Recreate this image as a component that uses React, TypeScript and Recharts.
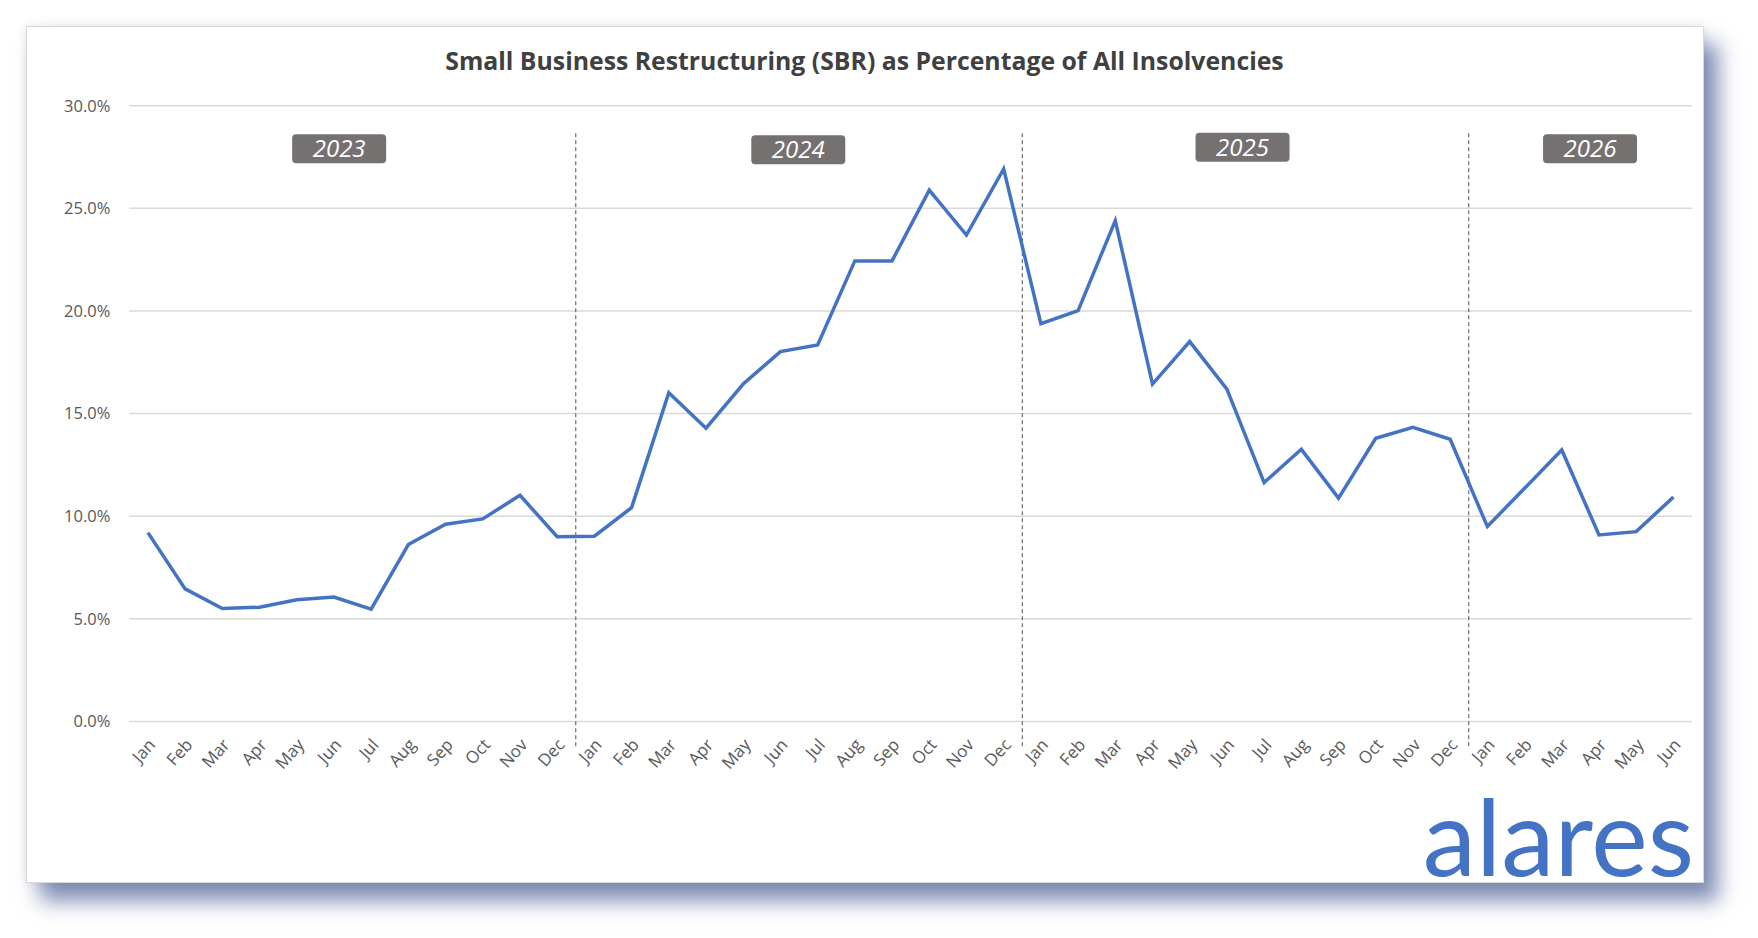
import React from "react";
import {
  LineChart,
  Line,
  XAxis,
  YAxis,
  CartesianGrid,
  ReferenceLine,
  ReferenceDot,
} from "recharts";

// SBR share of all insolvencies (%), read month by month
const MONTHS = ["Jan", "Feb", "Mar", "Apr", "May", "Jun", "Jul", "Aug", "Sep", "Oct", "Nov", "Dec"];
const YEARS = ["2023", "2024", "2025", "2026"];
const share2023 = [9.2, 6.46, 5.5, 5.57, 5.93, 6.06, 5.47, 8.62, 9.61, 9.87, 11.02, 9.0];
const share2024 = [9.03, 10.42, 16.02, 14.29, 16.44, 18.02, 18.34, 22.44, 22.44, 25.89, 23.7, 26.92];
const share2025 = [19.38, 20.02, 24.4, 16.44, 18.51, 16.19, 11.64, 13.26, 10.88, 13.8, 14.33, 13.75];
const share2026 = [9.5, 11.36, 13.23, 9.09, 9.25, 10.93];
const yTicks = [0, 5, 10, 15, 20, 25, 30];

// year badge anchors (category index, value) and year boundaries
const yearBadgeX = [5.14, 17.48, 29.42, 38.76];
const yearBadgeY = [27.9, 27.86, 27.98, 27.9];
const yearBreaks = [11.5, 23.5, 35.5];

const values = [...share2023, ...share2024, ...share2025, ...share2026];
const data = values.map((v, i) => ({ idx: i, month: MONTHS[i % 12], share: v }));
const xTicks = data.map((d) => d.idx);

const BLUE = "#4472C4";
const GREY = "#595959";

function MonthTick({ x, y, payload }: { x?: number; y?: number; payload?: { value: number } }) {
  const label = data[payload?.value ?? 0]?.month ?? "";
  return (
    <g transform={`translate(${(x ?? 0) + 4},${(y ?? 0) + 12})`}>
      <text
        x={0}
        y={0}
        dy="0.35em"
        textAnchor="end"
        transform="rotate(-48)"
        fill={GREY}
        fontSize={17}
        fontFamily="'Open Sans', sans-serif"
      >
        {label}
      </text>
    </g>
  );
}

function yearBadge(label: string) {
  return ({ cx, cy }: { cx?: number; cy?: number }) => (
    <g>
      <rect x={(cx ?? 0) - 47} y={(cy ?? 0) - 14.5} width={94} height={29} rx={4} fill="#767171" />
      <text
        x={cx}
        y={cy}
        dy="0.36em"
        textAnchor="middle"
        fill="#ffffff"
        fontSize={24}
        fontStyle="italic"
        fontFamily="'Open Sans', sans-serif"
      >
        {label}
      </text>
    </g>
  );
}

export default function App() {
  return (
    <div style={{ position: "absolute", left: 0, top: 0, width: 1758, height: 938, background: "#ffffff" }}>
      <div
        style={{
          position: "absolute",
          left: 26,
          top: 26,
          width: 1676,
          height: 855,
          background: "#ffffff",
          border: "1px solid #d9d9d9",
          boxShadow: "14px 18px 20px rgba(60, 80, 140, 0.65), 0 0 10px rgba(0, 0, 0, 0.1)",
        }}
      />
      <div style={{ position: "absolute", left: 0, top: 0 }}>
        <LineChart
          width={1758}
          height={938}
          data={data}
          margin={{ top: 105.7, right: 66, left: 69.3, bottom: 156.5 }}
        >
          <CartesianGrid vertical={false} stroke="#d9d9d9" strokeWidth={1.5} />
          <XAxis
            dataKey="idx"
            type="number"
            domain={[-0.5, 41.5]}
            ticks={xTicks}
            interval={0}
            axisLine={false}
            tickLine={false}
            height={60}
            tick={<MonthTick />}
          />
          <YAxis
            domain={[0, 30]}
            ticks={yTicks}
            width={60}
            axisLine={false}
            tickLine={false}
            tickMargin={13}
            tickFormatter={(v: number) => `${v.toFixed(1)}%`}
            tick={{ fill: GREY, fontSize: 16.5, fontFamily: "'Open Sans', sans-serif" }}
          />
          {yearBreaks.map((b) => (
            <ReferenceLine
              key={b}
              segment={[
                { x: b, y: 28.66 },
                { x: b, y: -1.34 },
              ]}
              stroke="#505050"
              strokeWidth={1}
              strokeDasharray="4 3"
              ifOverflow="visible"
            />
          ))}
          {YEARS.map((yr, i) => (
            <ReferenceDot
              key={yr}
              x={yearBadgeX[i]}
              y={yearBadgeY[i]}
              ifOverflow="visible"
              shape={yearBadge(yr)}
            />
          ))}
          <Line
            type="linear"
            dataKey="share"
            stroke={BLUE}
            strokeWidth={3.5}
            dot={false}
            activeDot={false}
            isAnimationActive={false}
          />
        </LineChart>
      </div>
      <svg
        width={1758}
        height={938}
        style={{ position: "absolute", left: 0, top: 0, pointerEvents: "none" }}
      >
        <text
          x={864.5}
          y={70}
          textAnchor="middle"
          fill="#404040"
          fontSize={24.8}
          fontWeight={700}
          fontFamily="'Open Sans', sans-serif"
        >
          Small Business Restructuring (SBR) as Percentage of All Insolvencies
        </text>
        <text
          x={1694}
          y={876}
          textAnchor="end"
          fill={BLUE}
          fontSize={107}
          fontFamily="Lato, sans-serif"
        >
          alares
        </text>
      </svg>
    </div>
  );
}
